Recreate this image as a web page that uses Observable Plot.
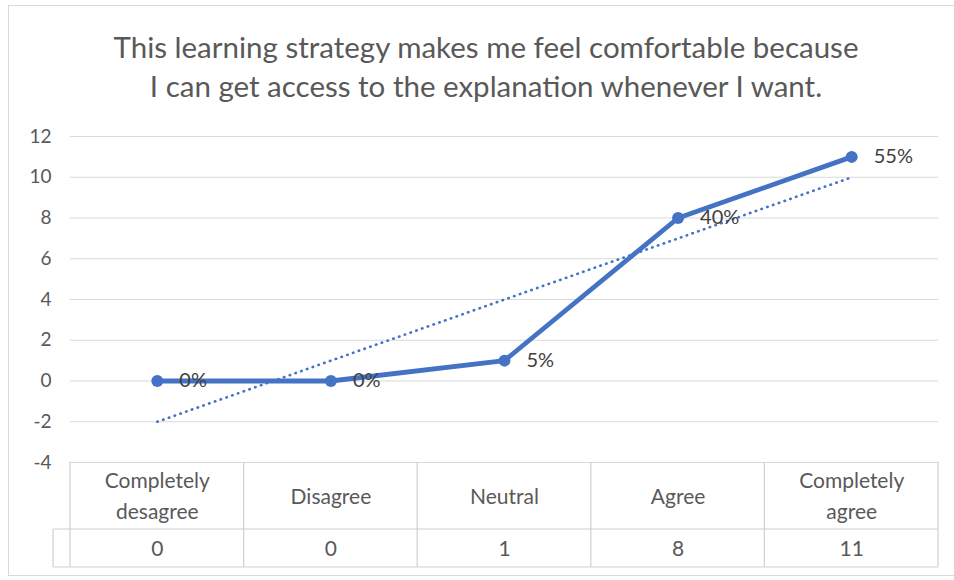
<!DOCTYPE html>
<html>
<head>
<meta charset="utf-8">
<script src="https://cdn.jsdelivr.net/npm/d3@7"></script>
<script src="https://cdn.jsdelivr.net/npm/@observablehq/plot@0.6"></script>
<style>
  html, body { margin: 0; padding: 0; background: #fff; }
  #wrap { position: relative; width: 954px; height: 580px; overflow: hidden; font-family: Lato, "Open Sans", sans-serif; }
  #frame { position: absolute; left: 8px; top: 5px; width: 950px; height: 571px; border: 1px solid #d9d9d9; box-sizing: border-box; }
  #title { position: absolute; left: 18px; width: 936px; top: 27px; text-align: center; color: #595959; font-size: 29.5px; line-height: 39px; }
  #chart { position: absolute; left: 0; top: 120px; }
</style>
</head>
<body>
<div id="wrap">
  <div id="frame"></div>
  <div id="title">This learning strategy makes me feel comfortable because<br>I can get access to the explanation whenever I want.</div>
  <div id="chart"></div>
</div>
<script>
const categories = ["Completely\ndesagree", "Disagree", "Neutral", "Agree", "Completely\nagree"];
const counts = [0, 0, 1, 8, 11];
const percentLabels = ["0%", "0%", "5%", "40%", "55%"];
const yTicks = [-4, -2, 0, 2, 4, 6, 8, 10, 12];

const data = categories.map((c, i) => ({pos: i + 1, cat: c, count: counts[i], label: percentLabels[i]}));
const edges = d3.range(categories.length + 1).map(i => i + 0.5);

const blue = "#4472C4";
const gridColor = "#d9d9d9";
const textColor = "#595959";

function tableLines(index, scales, values, dims) {
  const x = scales.x;
  const top = dims.height - dims.marginBottom;
  const rowSep = top + 67;
  const bottom = top + 105;
  const left = x(edges[0]);
  const right = x(edges[edges.length - 1]);
  const keyLeft = left - 17;
  const g = d3.create("svg:g").attr("stroke", "#d0d0d0").attr("stroke-width", 1.2).attr("fill", "none");
  g.append("line").attr("x1", keyLeft).attr("x2", right).attr("y1", rowSep).attr("y2", rowSep);
  g.append("line").attr("x1", keyLeft).attr("x2", right).attr("y1", bottom).attr("y2", bottom);
  g.append("line").attr("x1", keyLeft).attr("x2", keyLeft).attr("y1", rowSep).attr("y2", bottom);
  for (const e of edges) {
    g.append("line").attr("x1", x(e)).attr("x2", x(e)).attr("y1", top).attr("y2", bottom);
  }
  return g.node();
}

const chart = Plot.plot({
  width: 954,
  height: 460,
  marginTop: 16,
  marginBottom: 118,
  marginLeft: 70,
  marginRight: 16,
  style: {fontFamily: "Lato, 'Open Sans', sans-serif", overflow: "visible", background: "transparent"},
  x: {domain: [edges[0], edges[edges.length - 1]], axis: null},
  y: {domain: [yTicks[0], yTicks[yTicks.length - 1]], axis: null},
  marks: [
    Plot.gridY(yTicks, {stroke: gridColor, strokeOpacity: 1, strokeWidth: 1.2}),
    Plot.axisY(yTicks, {tickSize: 0, tickPadding: 19, fontSize: 19, fill: textColor, label: null, tickFormat: d => String(d)}),
    tableLines,
    Plot.linearRegressionY(data, {x: "pos", y: "count", ci: 0, stroke: blue, strokeWidth: 2.6, strokeDasharray: "0.5 5.6", strokeLinecap: "round"}),
    Plot.line(data, {x: "pos", y: "count", stroke: blue, strokeWidth: 4.8, strokeLinejoin: "round"}),
    Plot.dot(data, {x: "pos", y: "count", r: 6, fill: blue, stroke: "none"}),
    Plot.text(data, {x: "pos", y: "count", text: "label", dx: 22, textAnchor: "start", fontSize: 20, fill: "#404040"}),
    Plot.text(data, {x: "pos", text: "cat", frameAnchor: "bottom", lineAnchor: "middle", textAnchor: "middle", dy: 31, lineHeight: 1.5, fontSize: 21, fill: textColor}),
    Plot.text(data, {x: "pos", text: d => String(d.count), frameAnchor: "bottom", lineAnchor: "middle", textAnchor: "middle", dy: 87, fontSize: 21, fill: textColor})
  ]
});
document.getElementById("chart").appendChild(chart);
</script>
</body>
</html>
